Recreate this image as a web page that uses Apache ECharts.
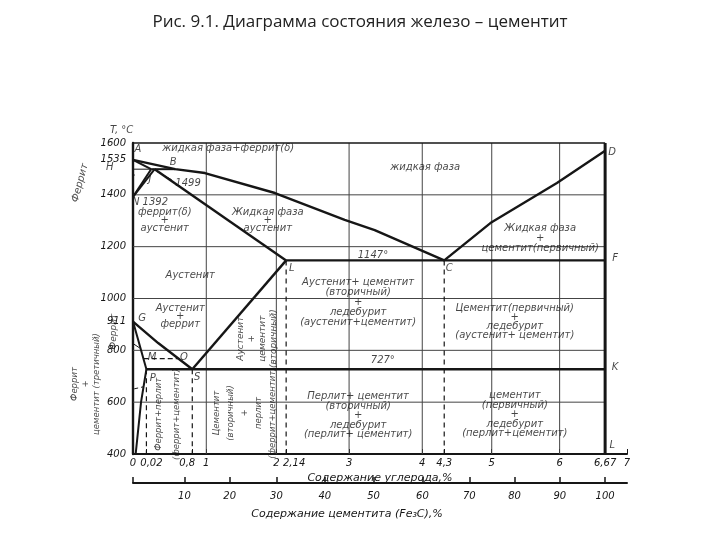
<!DOCTYPE html>
<html>
<head>
<meta charset="utf-8">
<script src="https://cdn.jsdelivr.net/npm/echarts@6/dist/echarts.min.js"></script>
<style>
html, body { margin: 0; background: #fff; }
#chart { width: 720px; height: 540px; }
</style>
</head>
<body>
<div id="chart"></div>
<script>
// the drawing stretches the low-carbon corner: true carbon % -> place on the axis
var scaleCarbon = [0, 0.02, 0.8, 2.14, 4.3, 6.67, 7];
var scalePos    = [0, 0.19, 0.84, 2.17, 4.41, 6.69, 7];

// tick labels
var carbonTicks = [0, 0.02, 0.8, 1, 2, 2.14, 3, 4, 4.3, 5, 6, 6.67, 7];
var cementiteTicks = [10, 20, 30, 40, 50, 60, 70, 80, 90, 100];
var tempTicks = [400, 600, 800, 911, 1000, 1200, 1400, 1535, 1600];
var gridCarbon = [1, 2, 3, 4, 5, 6];
var gridTemp = [600, 800, 1000, 1200, 1400];

// phase boundaries, [carbon %, °C]
var liquidusABC = [[0, 1535], [0.51, 1499], [0.98, 1484], [1.98, 1407], [2.94, 1303], [3.35, 1264], [4.3, 1147]];
var liquidusCD = [[4.3, 1147], [4.98, 1291], [5.96, 1446], [6.67, 1570]];
var solidusAH = [[0, 1535], [0.1, 1499]];
var peritecticHB = [[0.1, 1499], [0.51, 1499]];
var lineHN = [[0.1, 1499], [0, 1392]];
var lineJN = [[0.16, 1499], [0, 1392]];
var solidusJE = [[0.16, 1499], [2.14, 1147]];
var eutecticECF = [[2.14, 1147], [6.67, 1147]];
var lineES = [[2.14, 1147], [0.8, 727]];
var lineGS = [[0, 911], [0.22, 828], [0.8, 727]];
var lineGP = [[0, 911], [0.02, 727]];
var linePQ = [[0.02, 727], [0.012, 600], [0.004, 400]];
var eutectoidPSK = [[0.02, 727], [6.67, 727]];
var lineMO = [[0.016, 768], [0.56, 768]];
var dashP = [[0.02, 727], [0.02, 400]];
var dashS = [[0.8, 727], [0.8, 400]];
var dashE = [[2.14, 1147], [2.14, 400]];
var dashC = [[4.3, 1147], [4.3, 400]];
var frameTop = [[0, 1600], [6.67, 1600]];
var frameRight = [[6.67, 400], [6.67, 1600]];
// leaders from the outside notes
var leadH = [[-0.22, 1499], [0.1, 1499]];
var leadDelta = [[-0.5, 1430], [0.003, 1477]];
var leadAlpha = [[-0.13, 850], [0.01, 809]];
var leadTert = [[-0.37, 628], [0.015, 659]];
var lead1499 = [[0.2, 1490], [0.45, 1458]];

// notes: [axis place, °C, text, rotate, lineHeight, font size]
var notes = [
  [1.35, 1581, 'жидкая фаза+феррит(δ)'],
  [4.14, 1507, 'жидкая фаза'],
  [0.45, 1303, 'феррит(δ)\n+\nаустенит', 0, 8],
  [1.91, 1303, 'Жидкая фаза\n+\nаустенит', 0, 8],
  [0.81, 1091, 'Аустенит'],
  [0.67, 929, 'Аустенит\n+\nферрит', 0, 8],
  [1.76, 845, 'Аустенит\n+\nцементит\n(вторичный)', 90, 11, 9],
  [0.5, 553, 'Феррит+перлит\n(феррит+цементит)', 90, 18, 8.5],
  [1.58, 558, 'Цементит\n(вторичный)\n+\nперлит\n(феррит+цементит)', 90, 14, 8.5],
  [3.19, 983, 'Аустенит+ цементит\n(вторичный)\n+\nледебурит\n(аустенит+цементит)', 0, 10],
  [5.41, 909, 'Цементит(первичный)\n+\nледебурит\n(аустенит+ цементит)', 0, 9],
  [3.19, 547, 'Перлит+ цементит\n(вторичный)\n+\nледебурит\n(перлит+ цементит)', 0, 9.5],
  [5.41, 551, 'цементит\n(первичный)\n+\nледебурит\n(перлит+цементит)', 0, 9.5],
  [5.77, 1233, 'Жидкая фаза\n+\nцементит(первичный)', 0, 10],
  [3.4, 1168, '1147°'],
  [3.54, 763, '727°'],
  [0.07, 1577, 'A'], [0.57, 1527, 'B'], [0.24, 1461, 'J'], [0.78, 1446, '1499'],
  [0.24, 1372, 'N 1392'], [2.25, 1118, 'L'], [4.48, 1118, 'C'], [6.79, 1565, 'D'],
  [6.83, 1156, 'F'], [6.83, 736, 'K'], [6.79, 435, 'L'], [0.13, 925, 'G'],
  [0.27, 774, 'M'], [0.72, 774, 'O'], [0.28, 693, 'P'], [0.91, 697, 'S'],
  [-0.16, 1650, 'T, °C'],
  [-0.33, 1507, 'Н'],
  [-0.75, 1446, 'Феррит', 75],
  [-0.27, 872, 'Феррит', 90, 12, 9],
  [-0.67, 670, 'Феррит\n+\nцементит (третичный)', 90, 11, 8.5]
];

function toAxis(c) {
  if (c <= 0) return c;
  for (var i = 1; i < scaleCarbon.length; i++) {
    if (c <= scaleCarbon[i] || i === scaleCarbon.length - 1) {
      var c0 = scaleCarbon[i - 1], c1 = scaleCarbon[i];
      return scalePos[i - 1] + (c - c0) / (c1 - c0) * (scalePos[i] - scalePos[i - 1]);
    }
  }
}

function nearest(list, v, f) {
  var best = 0;
  list.forEach(function (x, i) {
    if (Math.abs(f(x) - v) < Math.abs(f(list[best]) - v)) best = i;
  });
  return list[best];
}

// labels that sit off their tick in the drawing
var shifted = { '0.02': 'r', '2.14': 'rr', '0.8': 'l' };

var font = 'DejaVu Sans';
var ink = '#161616';

function mkLine(pts, width, type, color) {
  return {
    type: 'line',
    data: pts.map(function (p) { return [toAxis(p[0]), p[1]]; }),
    symbol: 'none',
    silent: true,
    clip: false,
    lineStyle: { color: color || ink, width: width, type: type || 'solid' },
    z: width > 1.5 ? 5 : 3
  };
}

var series = [];
gridCarbon.forEach(function (c) { series.push(mkLine([[c, 400], [c, 1600]], 1, 'solid', '#444')); });
gridTemp.forEach(function (t) { series.push(mkLine([[0, t], [6.67, t]], 1, 'solid', '#444')); });

[liquidusABC, liquidusCD, solidusJE, eutecticECF, lineES, lineGS, eutectoidPSK].forEach(function (l) {
  series.push(mkLine(l, 2.4));
});
[solidusAH, peritecticHB, lineHN, lineJN, lineGP, linePQ].forEach(function (l) {
  series.push(mkLine(l, 2));
});
series.push(mkLine(frameRight, 3));
series.push(mkLine(frameTop, 1.3));
[dashP, dashS, dashE, dashC].forEach(function (l) {
  series.push(mkLine(l, 1.2, [5, 4]));
});
series.push(mkLine(lineMO, 1.2, [5, 3]));
[leadH, lead1499, leadAlpha].forEach(function (l) { series.push(mkLine(l, 1)); });
[leadDelta, leadTert].forEach(function (l) { series.push(mkLine(l, 1, [4, 3])); });

series.push({
  type: 'scatter',
  silent: true,
  clip: false,
  symbolSize: 0.1,
  itemStyle: { color: 'transparent' },
  z: 10,
  data: notes.map(function (n) {
    return {
      value: [n[0], n[1]],
      label: {
        show: true,
        position: 'inside',
        formatter: n[2],
        rotate: n[3] || 0,
        lineHeight: n[4] || 12,
        align: 'center',
        verticalAlign: 'middle',
        fontFamily: font,
        fontStyle: 'italic',
        fontSize: n[5] || 10,
        color: ink
      }
    };
  })
});

var chart = echarts.init(document.getElementById('chart'));
chart.setOption({
  animation: false,
  backgroundColor: '#fff',
  title: {
    text: 'Рис. 9.1. Диаграмма состояния железо – цементит',
    left: 'center',
    top: 9,
    textStyle: { fontFamily: 'Open Sans', fontSize: 17, fontWeight: 'normal', color: '#222' }
  },
  grid: { left: 133, top: 143, width: 494, height: 311, show: false },
  xAxis: [
    {
      type: 'value',
      min: 0,
      max: 7,
      position: 'bottom',
      name: 'Содержание углерода,%',
      nameLocation: 'middle',
      nameGap: 13,
      nameTextStyle: { fontFamily: font, fontStyle: 'italic', fontSize: 11, color: ink },
      axisLine: { lineStyle: { color: ink, width: 2 } },
      axisTick: {
        inside: true, length: 5, lineStyle: { color: ink },
        customValues: carbonTicks.map(toAxis)
      },
      axisLabel: {
        margin: 4,
        hideOverlap: false,
        showMinLabel: true,
        showMaxLabel: true,
        fontFamily: font, fontStyle: 'italic', fontSize: 10, color: ink,
        customValues: carbonTicks.map(toAxis),
        formatter: function (v) {
          var c = nearest(carbonTicks, v, toAxis);
          var t = String(c).replace('.', ',');
          return shifted[String(c)] ? '{' + shifted[String(c)] + '|' + t + '}' : t;
        },
        rich: {
          r: { padding: [0, 0, 0, 10], fontFamily: font, fontStyle: 'italic', fontSize: 10, color: ink },
          rr: { padding: [0, 0, 0, 16], fontFamily: font, fontStyle: 'italic', fontSize: 10, color: ink },
          l: { padding: [0, 10, 0, 0], fontFamily: font, fontStyle: 'italic', fontSize: 10, color: ink }
        }
      },
      splitLine: { show: false }
    },
    {
      type: 'value',
      min: 0,
      max: 7,
      position: 'bottom',
      offset: 29,
      name: 'Содержание цементита (Fe₃C),%',
      nameLocation: 'middle',
      nameGap: 26,
      nameTextStyle: { fontFamily: font, fontStyle: 'italic', fontSize: 11, color: ink, padding: [0, 66, 0, 0] },
      axisLine: { lineStyle: { color: ink, width: 2 } },
      axisTick: {
        inside: true, length: 6, lineStyle: { color: ink, width: 1.5 },
        customValues: [0].concat(cementiteTicks).map(function (v) { return toAxis(v * 6.67 / 100); })
      },
      axisLabel: {
        margin: 8,
        hideOverlap: false,
        fontFamily: font, fontStyle: 'italic', fontSize: 10, color: ink,
        customValues: cementiteTicks.map(function (v) { return toAxis(v * 6.67 / 100); }),
        formatter: function (v) {
          return String(nearest(cementiteTicks, v, function (m) { return toAxis(m * 6.67 / 100); }));
        }
      },
      splitLine: { show: false }
    }
  ],
  yAxis: {
    type: 'value',
    min: 400,
    max: 1600,
    axisLine: { show: true, lineStyle: { color: ink, width: 2.4 } },
    axisTick: { show: false },
    axisLabel: {
      margin: 7,
      hideOverlap: false,
      fontFamily: font, fontStyle: 'italic', fontSize: 10, color: ink,
      customValues: tempTicks,
      formatter: function (v) { return String(Math.round(v)); }
    },
    splitLine: { show: false }
  },
  series: series
});
</script>
</body>
</html>
